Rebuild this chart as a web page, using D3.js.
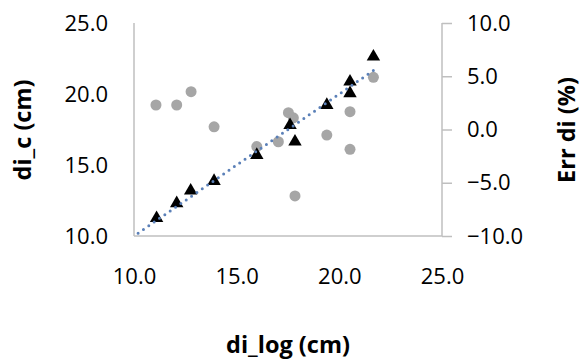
<!DOCTYPE html>
<html><head><meta charset="utf-8">
<script src="https://cdn.jsdelivr.net/npm/d3@7"></script>
<style>body{margin:0;background:#fff}svg{display:block}</style>
</head><body>
<script>
const xTicks = [10, 15, 20, 25];
const yLeftTicks = [10, 15, 20, 25];
const yRightTicks = [-10, -5, 0, 5, 10];
// di_c vs di_log (triangles, left axis)
const triX = [11.1, 12.08, 12.76, 13.9, 15.98, 17.6, 17.84, 19.39, 20.52, 20.52, 21.66];
const triY = [11.25, 12.3, 13.19, 13.87, 15.7, 17.8, 16.64, 19.22, 20.87, 20.05, 22.63];
// Err di vs di_log (grey circles, right axis)
const errX = [11.07, 12.08, 12.78, 13.9, 15.98, 17.03, 17.52, 17.76, 17.84, 19.39, 20.52, 20.52, 21.66];
const errY = [2.3, 2.3, 3.55, 0.25, -1.6, -1.15, 1.58, 1.1, -6.24, -0.52, -1.86, 1.67, 4.9];
// 1:1 line
const lineX = [10.2, 21.7];

const W = 583, H = 361;
const svg = d3.select("body").append("svg").attr("width", W).attr("height", H);
const x = d3.scaleLinear().domain([10, 25]).range([134, 442]);
const yL = d3.scaleLinear().domain([10, 25]).range([236, 23]);
const yR = d3.scaleLinear().domain([-10, 10]).range([236, 23]);
const fmt = d3.format(".1f");
const axisColor = "#bfbfbf";
const font = "'Open Sans', sans-serif";
const tickFs = 22, titleFs = 23.5;

svg.append("line").attr("x1", 134).attr("x2", 134).attr("y1", 23).attr("y2", 236)
  .attr("stroke", axisColor).attr("stroke-width", 1.5);
svg.append("line").attr("x1", 134).attr("x2", 442).attr("y1", 236).attr("y2", 236)
  .attr("stroke", axisColor).attr("stroke-width", 1.5);

const gR = svg.append("g").attr("transform", "translate(442,0)")
  .call(d3.axisRight(yR).tickValues(yRightTicks).tickSize(10).tickPadding(8).tickFormat(fmt));
gR.select(".domain").attr("stroke", axisColor).attr("stroke-width", 1.5).attr("d", "M0,23V236");
gR.selectAll(".tick line").attr("stroke", axisColor).attr("stroke-width", 1.5);
gR.selectAll("text").attr("font-family", font).attr("font-size", tickFs).attr("fill", "#000").attr("x", 25);

const gL = svg.append("g").attr("transform", "translate(134,0)")
  .call(d3.axisLeft(yL).tickValues(yLeftTicks).tickSize(0).tickPadding(26).tickFormat(fmt));
gL.select(".domain").remove();
gL.selectAll("text").attr("font-family", font).attr("font-size", tickFs).attr("fill", "#000");

const gX = svg.append("g").attr("transform", "translate(0,236)")
  .call(d3.axisBottom(x).tickValues(xTicks).tickSize(0).tickPadding(32).tickFormat(fmt));
gX.select(".domain").remove();
gX.selectAll("text").attr("font-family", font).attr("font-size", tickFs).attr("fill", "#000");

svg.append("g").selectAll("circle").data(errX).join("circle")
  .attr("cx", (d) => x(d)).attr("cy", (d, i) => yR(errY[i])).attr("r", 5.5).attr("fill", "#a6a6a6");

const tri = d3.symbol().type(d3.symbolTriangle).size(78);
svg.append("g").selectAll("path").data(triX).join("path")
  .attr("d", tri).attr("fill", "#000")
  .attr("transform", (d, i) => `translate(${x(d)},${yL(triY[i])})`);

svg.append("path").datum(lineX)
  .attr("d", d3.line().x((d) => x(d)).y((d) => yL(d)))
  .attr("fill", "none").attr("stroke", "#5b80b8").attr("stroke-width", 3)
  .attr("stroke-linecap", "round").attr("stroke-dasharray", "0 6.5");

svg.append("text").attr("x", 288).attr("y", 353).attr("text-anchor", "middle")
  .attr("font-family", font).attr("font-weight", "bold").attr("font-size", titleFs).text("di_log (cm)");
svg.append("text").attr("transform", "translate(31,130) rotate(-90)").attr("text-anchor", "middle")
  .attr("font-family", font).attr("font-weight", "bold").attr("font-size", titleFs).text("di_c (cm)");
svg.append("text").attr("transform", "translate(575,130) rotate(-90)").attr("text-anchor", "middle")
  .attr("font-family", font).attr("font-weight", "bold").attr("font-size", titleFs).text("Err di (%)");
</script>
</body></html>
